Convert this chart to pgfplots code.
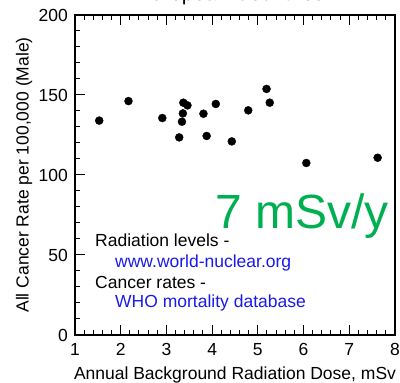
\documentclass[border=0pt]{standalone}
\usepackage{pgfplots}
\pgfplotsset{compat=1.18}
\usepackage{fontspec}
\setmainfont{Liberation Sans}

\definecolor{doseGreen}{RGB}{0,176,80}
\definecolor{linkBlue}{RGB}{25,25,235}

% Male cancer mortality vs. annual background dose, one point per country
\pgfplotstableread{
dose  rate
1.53  134.0
2.17  146.2
2.91  135.6
3.28  123.5
3.34  133.3
3.36  138.5
3.37  145.2
3.46  143.5
3.81  138.3
3.88  124.4
4.08  144.4
4.43  121.0
4.79  140.4
5.19  153.8
5.26  145.2
6.06  107.5
7.62  110.8
}\cancerdata

\begin{document}
\begin{tikzpicture}
\begin{axis}[
  at={(75pt,48pt)}, anchor=south west,
  width=320pt, height=320pt, scale only axis,
  xmin=1, xmax=8, ymin=0, ymax=200,
  xtick={1,2,...,8}, ytick={0,50,...,200},
  minor x tick num=4, minor y tick num=4,
  xtick pos=both, ytick pos=left,
  tick align=inside,
  major tick length=10pt, minor tick length=5pt,
  axis line style={line width=1.5pt},
  every tick/.style={black, line width=1pt},
  /pgf/number format/assume math mode=true,
  tick label style={font=\fontsize{17.5}{20}\selectfont, inner sep=0pt},
  xticklabel style={yshift=-8pt},
  yticklabel style={xshift=-7pt},
  label style={font=\fontsize{17.5}{20}\selectfont},
  xlabel={Annual Background Radiation Dose, mSv},
  xlabel style={at={(axis description cs:0.5,-0.1406)}, anchor=base},
  ylabel={All Cancer Rate per 100,000 (Male)},
  ylabel style={at={(axis description cs:-0.1453,0.5)}, anchor=base},
  title={in European Countries},
  title style={at={(axis description cs:0.453,1)}, anchor=base, yshift=8pt,
    inner sep=0pt, font=\fontsize{21}{24}\selectfont},
  clip=false,
]
\addplot[only marks, mark=*, mark size=4pt, black] table[x=dose, y=rate] {\cancerdata};

\node[anchor=base west, inner sep=0pt, text=doseGreen,
  font=\fontsize{48}{52}\selectfont] at (axis cs:4.07,66.3) {7 mSv/y};

\begin{scope}[every node/.style={anchor=base west, inner sep=0pt,
  font=\fontsize{17.5}{20}\selectfont}]
  \node at (axis cs:1.4375,55.6) {Radiation levels -};
  \node[text=linkBlue] at (axis cs:1.875,41.9) {www.world-nuclear.org};
  \node at (axis cs:1.4375,28.8) {Cancer rates -};
  \node[text=linkBlue] at (axis cs:1.875,16.9) {WHO mortality database};
\end{scope}
\end{axis}
\pgfresetboundingbox
\path[use as bounding box] (0,0) rectangle (400pt,383pt);
\end{tikzpicture}
\end{document}
